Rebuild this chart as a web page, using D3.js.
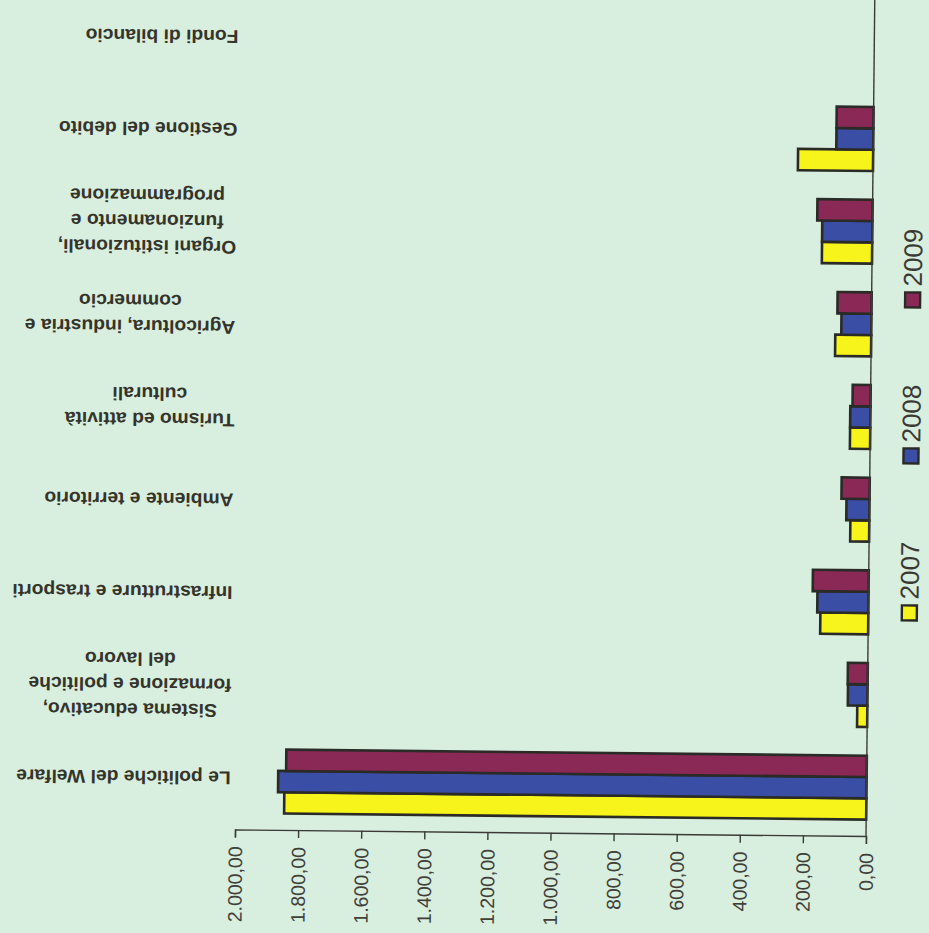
<!DOCTYPE html>
<html>
<head>
<meta charset="utf-8">
<script src="https://cdn.jsdelivr.net/npm/d3@7"></script>
<style>
  html, body { margin: 0; padding: 0; background: #d8eedf; }
  svg { display: block; }
</style>
</head>
<body>
<svg id="chart" width="929" height="933"></svg>
<script>
// Spending by budget function, 2007–2009
const categories = [
  "Le politiche del Welfare",
  "Sistema educativo,\nformazione e politiche\ndel lavoro",
  "Infrastrutture e trasporti",
  "Ambiente e territorio",
  "Turismo ed attività\nculturali",
  "Agricoltura, industria e\ncommercio",
  "Organi istituzionali,\nfunzionamento e\nprogrammazione",
  "Gestione del debito",
  "Fondi di bilancio"
];
const seriesNames = ["2007", "2008", "2009"];
const values2007 = [1845, 32, 152, 60, 64, 114, 159, 238, 0];
const values2008 = [1865, 62, 162, 73, 64, 95, 159, 117, 0];
const values2009 = [1840, 63, 177, 89, 57, 108, 175, 117, 0];
const tickValues = [0, 200, 400, 600, 800, 1000, 1200, 1400, 1600, 1800, 2000];
const seriesColors = ["#f6f41a", "#3a4ea6", "#8b2956"];

const seriesValues = [values2007, values2008, values2009];
const rows = categories.map((c, i) => ({
  category: c,
  values: seriesNames.map((s, j) => ({ series: s, value: seriesValues[j][i] }))
}));

const it = d3.formatLocale({ decimal: ",", thousands: ".", grouping: [3], currency: ["€", ""] });
const fmt = it.format(",.2f");

const svg = d3.select("#chart");
const x0 = 866, y0 = 836;   // origin: where the two axes meet
const root = svg.append("g").attr("transform", `rotate(0.6, ${x0}, ${y0})`);

const x = d3.scaleLinear().domain([0, 2000]).range([x0, 235]);
const y = d3.scaleBand().domain(categories).range([834, 0]).paddingInner(0.31).paddingOuter(0.155);
const ySub = d3.scaleBand().domain(["2009", "2008", "2007"]).range([0, y.bandwidth()]);
const color = d3.scaleOrdinal().domain(seriesNames).range(seriesColors);

const textColor = "#34342b";
const lineColor = "#3a3a36";

// bars
const groups = root.append("g").selectAll("g.cat")
  .data(rows).join("g")
  .attr("class", "cat")
  .attr("transform", d => `translate(0,${y(d.category)})`);

groups.selectAll("rect")
  .data(d => d.values.filter(v => v.value > 0))
  .join("rect")
  .attr("x", d => x(d.value))
  .attr("y", d => ySub(d.series))
  .attr("width", d => x(0) - x(d.value))
  .attr("height", ySub.bandwidth())
  .attr("fill", d => color(d.series))
  .attr("stroke", "#2a2a26")
  .attr("stroke-width", 2.6);

// value axis along the bottom
const xAxis = root.append("g")
  .attr("transform", `translate(0,${y0})`)
  .call(d3.axisBottom(x).tickValues(tickValues).tickSize(8).tickFormat(fmt));
xAxis.select(".domain").attr("stroke", lineColor).attr("stroke-width", 1.4);
xAxis.selectAll(".tick line").attr("stroke", lineColor).attr("stroke-width", 1.4);
xAxis.selectAll(".tick text")
  .attr("transform", "rotate(-90)")
  .attr("x", -17)
  .attr("y", 0)
  .attr("dy", "0.35em")
  .attr("text-anchor", "end")
  .attr("fill", "#404039")
  .style("font-family", "'Liberation Sans', Arial, sans-serif")
  .style("font-size", "19.5px");

// category axis line
root.append("line")
  .attr("x1", x0).attr("x2", x0)
  .attr("y1", y0).attr("y2", -20)
  .attr("stroke", lineColor).attr("stroke-width", 1.4);

// category labels, turned upside down
const labelX = 230, lineH = 25.5;
const labels = root.append("g").selectAll("g.lab")
  .data(categories).join("g")
  .attr("class", "lab")
  .attr("transform", d => `translate(${labelX},${y(d) + y.bandwidth() / 2 - 3}) rotate(180) scale(1.04,1)`);

labels.each(function (d) {
  const g = d3.select(this);
  const lines = d.split("\n");
  const n = lines.length;
  const texts = lines.map((ln, i) => g.append("text")
    .text(ln)
    .attr("y", (i - (n - 1) / 2) * lineH)
    .attr("dy", "0.35em")
    .attr("fill", textColor)
    .style("font-family", "'Liberation Sans', Arial, sans-serif")
    .style("font-weight", "bold")
    .style("font-size", "18.5px"));
  const widths = texts.map(t => t.node().getComputedTextLength());
  const maxW = d3.max(widths);
  texts.forEach((t, i) => t.attr("x", (maxW - widths[i]) / 2));
});

// legend, reading bottom to top
const legendY = [620, 463, 307];
const legend = root.append("g").selectAll("g.leg")
  .data(seriesNames).join("g")
  .attr("class", "leg")
  .attr("transform", (d, i) => `translate(907,${legendY[i]})`);
legend.append("rect")
  .attr("x", -7.5).attr("y", -15)
  .attr("width", 15).attr("height", 15)
  .attr("fill", d => color(d))
  .attr("stroke", "#2a2a26").attr("stroke-width", 2.4);
legend.append("text")
  .text(d => d)
  .attr("transform", "translate(0,-21) rotate(-90)")
  .attr("dy", "0.35em")
  .attr("fill", "#3a3a33")
  .style("font-family", "'Liberation Sans', Arial, sans-serif")
  .style("font-size", "26px");
</script>
</body>
</html>
